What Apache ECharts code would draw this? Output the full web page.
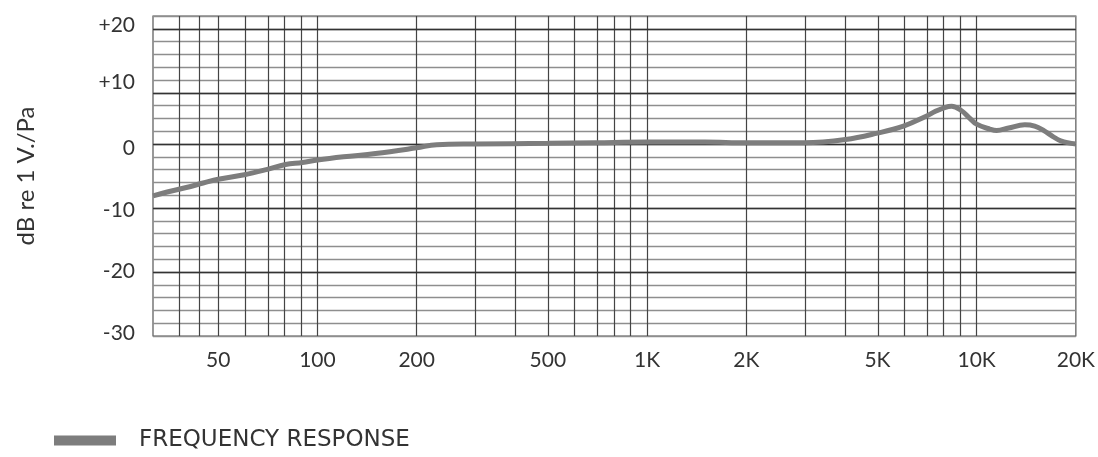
<!DOCTYPE html>
<html>
<head>
<meta charset="utf-8">
<script src="https://cdn.jsdelivr.net/npm/echarts@6/dist/echarts.min.js"></script>
<style>
html,body{margin:0;padding:0;background:#fff;}
#chart{width:1098px;height:457px;}
</style>
</head>
<body>
<div id="chart"></div>
<script>
// Frequency (Hz) and response (dB re 1 V/Pa)
const freqs = [31.7, 35, 40, 45, 50, 60, 70, 80, 90, 100, 120, 150, 200, 230, 300, 500, 700, 1000, 1500, 2000, 3000, 4000, 5000, 6000, 7000, 7500, 8000, 8400, 9000, 9500, 10000, 11000, 11500, 12500, 14000, 15000, 16000, 17000, 18000, 20000];
const response = [-8.1, -7.5, -6.8, -6.1, -5.5, -4.8, -4.0, -3.2, -2.9, -2.5, -2.0, -1.5, -0.6, -0.1, 0.0, 0.1, 0.2, 0.3, 0.3, 0.2, 0.2, 0.7, 1.7, 2.8, 4.3, 5.1, 5.7, 5.9, 5.2, 4.1, 3.1, 2.3, 2.1, 2.5, 3.0, 2.8, 2.1, 1.2, 0.5, 0.0];

// Axis tick labels
const xTickFreqs = [50, 100, 200, 500, 1000, 2000, 5000, 10000, 20000];
const xTickLabels = ['50', '100', '200', '500', '1K', '2K', '5K', '10K', '20K'];
// label positions as printed in the original (slightly off the grid there)
const yTickValues = [-29.6, -19.9, -10.4, -0.6, 9.6, 18.6];
const yTickLabels = ['-30', '-20', '-10', '0', '+10', '+20'];

// Grid line positions
const vGridFreqs = [38.4, 43.4, 50, 60, 70, 80, 90, 100, 200, 300, 400, 500, 600, 700, 800, 900, 1000, 2000, 3000, 4000, 5000, 6000, 7000, 8000, 9000, 10000];
const hDarkLines = [18, 8, 0, -10, -20];

const xMin = 31.7, xMax = 20000;
const lg = Math.log10;

const chart = echarts.init(document.getElementById('chart'), null, {renderer: 'canvas'});
const FONT = 'Lato, "Open Sans", sans-serif';

chart.setOption({
  animation: false,
  backgroundColor: '#ffffff',
  grid: {
    left: 153, right: 13, top: 16, bottom: 121,
    show: true, borderColor: '#555', borderWidth: 1.2, backgroundColor: 'transparent'
  },
  legend: {
    data: [{name: 'FREQUENCY RESPONSE', icon: 'rect'}],
    left: 54, top: 429, padding: 0,
    itemWidth: 62, itemHeight: 10,
    textStyle: {fontFamily: '"DejaVu Sans", sans-serif', fontSize: 23, color: '#333', padding: [0, 0, 0, 18]}
  },
  xAxis: {
    type: 'value',
    min: lg(xMin), max: lg(xMax),
    axisLine: {show: false},
    axisTick: {show: false},
    splitLine: {show: false},
    axisLabel: {
      customValues: xTickFreqs.map(f => lg(f)),
      margin: 14,
      fontFamily: FONT, fontSize: 21, color: '#333',
      formatter: function (v) {
        let best = 0, bd = Infinity;
        xTickFreqs.forEach((f, i) => { const d = Math.abs(lg(f) - v); if (d < bd) { bd = d; best = i; } });
        return bd < 0.01 ? xTickLabels[best] : '';
      }
    }
  },
  yAxis: {
    type: 'value',
    min: -30, max: 20, interval: 2,
    name: 'dB re 1 V./Pa',
    nameLocation: 'middle', nameRotate: 90, nameGap: 115,
    nameTextStyle: {fontFamily: FONT, fontSize: 24, color: '#333'},
    axisLine: {show: false},
    axisTick: {show: false},
    splitLine: {show: true, lineStyle: {color: '#8e8e8e', width: 1.3}},
    axisLabel: {
      customValues: yTickValues,
      margin: 18,
      fontFamily: FONT, fontSize: 21, color: '#333',
      formatter: function (v) {
        let best = 0, bd = Infinity;
        yTickValues.forEach((t, i) => { const d = Math.abs(t - v); if (d < bd) { bd = d; best = i; } });
        return bd < 0.05 ? yTickLabels[best] : '';
      }
    }
  },
  series: [
    {
      name: 'grid',
      type: 'line',
      data: [],
      z: 1,
      silent: true,
      markLine: {
        silent: true,
        symbol: ['none', 'none'],
        label: {show: false},
        emphasis: {disabled: true},
        animation: false,
        data: vGridFreqs.map(f => ({xAxis: lg(f), lineStyle: {color: '#444', width: 1.2, type: 'solid'}}))
          .concat(hDarkLines.map(v => ({yAxis: v, lineStyle: {color: '#333', width: 1.4, type: 'solid'}})))
      }
    },
    {
      name: 'FREQUENCY RESPONSE',
      type: 'line',
      z: 5,
      data: freqs.map((f, i) => [lg(f), response[i]]),
      smooth: 0.4,
      showSymbol: false,
      symbol: 'none',
      lineStyle: {color: '#7d7d7d', width: 5},
      itemStyle: {color: '#7d7d7d'}
    }
  ]
});
</script>
</body>
</html>
